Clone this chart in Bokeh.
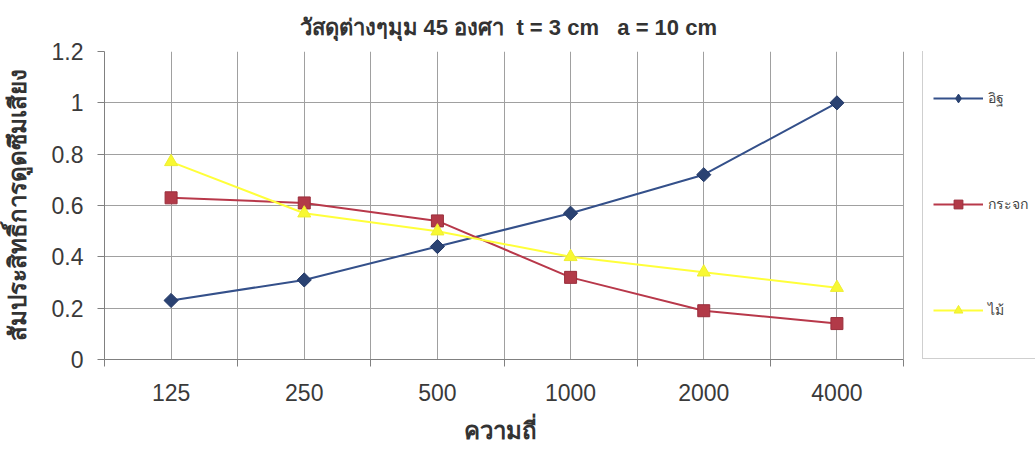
import math
from bokeh.plotting import figure
from bokeh.models import (Range1d, FixedTicker, NumeralTickFormatter, Legend, LegendItem,
                          Grid, Title)
from bokeh.embed import file_html
from bokeh.resources import INLINE

# ---- data ----
frequencies = ["125", "250", "500", "1000", "2000", "4000"]
brick = [0.23, 0.31, 0.44, 0.57, 0.72, 1.00]
glass = [0.63, 0.61, 0.54, 0.32, 0.19, 0.14]
wood = [0.77, 0.57, 0.50, 0.40, 0.34, 0.28]
series_labels = ["อิฐ", "กระจก", "ไม้"]
y_ticks = [0, 0.2, 0.4, 0.6, 0.8, 1.0, 1.2]
title_text = "วัสดุต่างๆมุม 45 องศา\u00a0 t = 3 cm\u00a0\u00a0\u00a0a = 10 cm"
x_title = "ความถี่"
y_title = "สัมประสิทธิ์การดูดซึมเสียง"

n = len(frequencies)
xs = list(range(n))
boundaries = [i - 0.5 for i in range(n + 1)]

FONT = "Liberation Sans"
GRID = "#A0A0A0"
AXIS = "#808080"

PLOT_W = 799    # width of the chart area (px)
FRAME_W = 931   # frame also holds the legend on its right
x_end = -0.5 + n * FRAME_W / PLOT_W

p = figure(frame_width=FRAME_W, frame_height=308,
           x_range=Range1d(-0.5, x_end), y_range=Range1d(0, 1.2),
           output_backend="svg", toolbar_location=None,
           min_border_left=104, min_border_right=0,
           min_border_top=51, min_border_bottom=91)

p.title.text = title_text
p.title.align = "left"
p.title.offset = 195
p.title.text_font = FONT
p.title.text_font_size = "22px"
p.title.text_font_style = "bold"
p.title.text_color = "#333333"
p.title.standoff = 23

p.outline_line_color = None
p.background_fill_color = "white"

# x axis (categories at centres, ticks at boundaries)
xa = p.xaxis[0]
xa.bounds = (-0.5, n - 0.5)
xa.ticker = FixedTicker(ticks=xs, minor_ticks=boundaries)
xa.major_label_overrides = {i: f for i, f in enumerate(frequencies)}
xa.major_tick_out = 0
xa.major_tick_in = 0
xa.minor_tick_out = 7
xa.minor_tick_in = 0
xa.minor_tick_line_color = AXIS
xa.axis_line_color = AXIS
xa.major_label_text_font = FONT
xa.major_label_text_font_size = "23px"
xa.major_label_text_color = "#3a3a3a"
xa.major_label_standoff = 17

# x-axis title, centred under the chart area (not under the legend)
x_label = Title(text=x_title, align="left", offset=359,
                text_font=FONT, text_font_size="24px", text_font_style="bold",
                text_color="#333333", standoff=22)
p.add_layout(x_label, "below")

ya = p.yaxis[0]
ya.ticker = FixedTicker(ticks=y_ticks)
ya.formatter = NumeralTickFormatter(format="0.[0]")
ya.major_tick_out = 7
ya.major_tick_in = 0
ya.minor_tick_out = 0
ya.minor_tick_in = 0
ya.major_tick_line_color = AXIS
ya.axis_line_color = AXIS
ya.major_label_text_font = FONT
ya.major_label_text_font_size = "23px"
ya.major_label_text_color = "#3a3a3a"
ya.major_label_standoff = 14
ya.axis_label = y_title
ya.axis_label_text_font = FONT
ya.axis_label_text_font_size = "24px"
ya.axis_label_text_font_style = "bold"
ya.axis_label_text_color = "#333333"
ya.axis_label_standoff = 18

p.xgrid.grid_line_color = GRID
p.xgrid.minor_grid_line_color = GRID
p.xgrid.bounds = (-0.5, n - 0.5)
if "cross_bounds" in Grid.properties():
    p.ygrid.grid_line_color = GRID
    p.ygrid.cross_bounds = (-0.5, n - 0.5)
else:
    p.ygrid.visible = False
    p.segment(x0=[boundaries[0]] * len(y_ticks), x1=[boundaries[-1]] * len(y_ticks),
              y0=y_ticks, y1=y_ticks, line_color=GRID, line_width=1, level="underlay")

# ---- series ----
BLUE_LINE, BLUE_MARK = "#34508A", "#2A4272"
RED_LINE, RED_MARK = "#B8384A", "#B23A48"
YEL_LINE, YEL_MARK = "#FFFF3A", "#F8F832"

r1l = p.line(xs, brick, line_color=BLUE_LINE, line_width=2)
# small diamond underneath the rotated square (gives a diamond in the legend)
r1d = p.scatter(xs, brick, marker="diamond", size=8,
                fill_color=BLUE_MARK, line_color=BLUE_MARK)
r1m = p.scatter(xs, brick, marker="square", angle=math.pi / 4, size=10,
                fill_color=BLUE_MARK, line_color="#223766")
r2l = p.line(xs, glass, line_color=RED_LINE, line_width=2)
r2m = p.scatter(xs, glass, marker="square", size=12,
                fill_color=RED_MARK, line_color="#9A2E3C")
r3l = p.line(xs, wood, line_color=YEL_LINE, line_width=2)
r3m = p.scatter(xs, wood, marker="triangle", size=13,
                fill_color=YEL_MARK, line_color="#EEEE30")

legend = Legend(items=[LegendItem(label=series_labels[0], renderers=[r1l, r1d]),
                       LegendItem(label=series_labels[1], renderers=[r2l, r2m]),
                       LegendItem(label=series_labels[2], renderers=[r3l, r3m])],
                location=(818, 0), orientation="vertical",
                glyph_width=50, glyph_height=22, label_height=76, label_width=60,
                spacing=30, padding=10, label_standoff=5,
                border_line_color="#A0A0A0", background_fill_color="white",
                label_text_font=FONT, label_text_font_size="14px",
                label_text_color="#444444")
p.add_layout(legend)

open("out.html", "w").write(file_html(p, INLINE))
